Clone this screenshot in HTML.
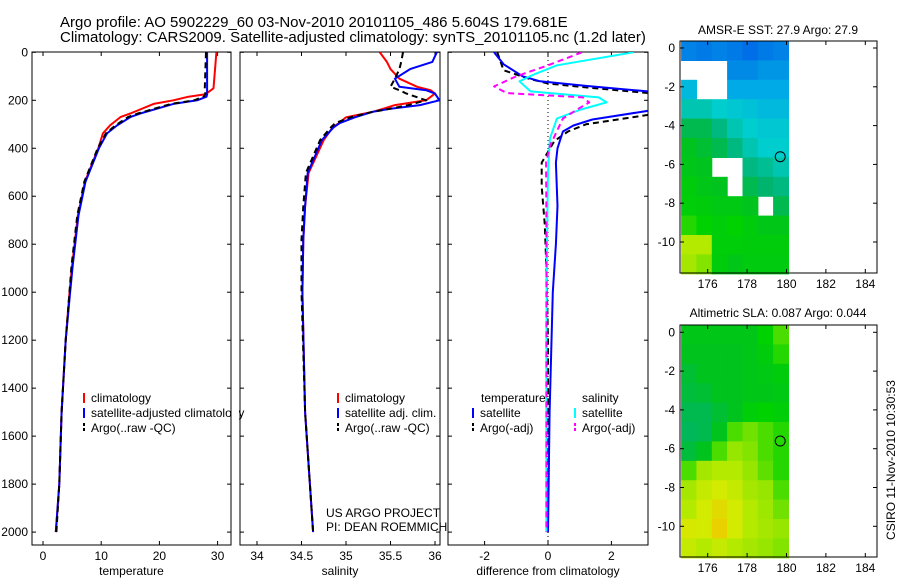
<!DOCTYPE html>
<html><head><meta charset="utf-8"><style>
body{margin:0;background:#fff}
svg{display:block;font-family:"Liberation Sans",sans-serif}
</style></head><body>
<svg id="c" width="900" height="580" viewBox="0 0 900 580">
<text x="60" y="27" font-size="15">Argo profile: AO 5902229_60 03-Nov-2010 20101105_486 5.604S 179.681E</text>
<text x="60" y="42" font-size="15">Climatology: CARS2009. Satellite-adjusted climatology: synTS_20101105.nc (1.2d later)</text>
<text x="778" y="34" font-size="12" text-anchor="middle">AMSR-E SST: 27.9 Argo: 27.9</text>
<text x="778" y="317" font-size="12" text-anchor="middle">Altimetric SLA: 0.087 Argo: 0.044</text>
<text transform="translate(895,460) rotate(-90)" font-size="12" text-anchor="middle">CSIRO 11-Nov-2010 10:30:53</text>
</svg>
<script>
// ---------- data ----------
const depthTicks=[0,200,400,600,800,1000,1200,1400,1600,1800,2000];
const tempTicks=[0,10,20,30];
const salTicks=[34,34.5,35,35.5,36];
const diffTicks=[-2,0,2];
const lonTicks=[176,178,180,182,184];
const latTicks=[0,-2,-4,-6,-8,-10];

const tDepth=[0,150,175,185,200,215,255,270,305,338,400,540,680,890,1015,1200,1500,1800,2000];
const tClim=[29.8,29.3,27.9,25,22.4,19,15,13.3,11.5,10.3,9.5,7.2,6.0,5.0,4.5,3.9,3.2,2.8,2.2];
const tSat=[28.2,28.2,28.2,28.1,26.5,22.4,16.7,15,12.7,11,9.6,7.3,6.1,5.1,4.6,3.9,3.2,2.8,2.2];
const tArgo=[28.0,27.8,27.9,27.6,26,22,16.3,14.6,12.4,10.8,9.4,7.1,5.9,4.9,4.5,3.9,3.2,2.8,2.3];

const sDepth=[0,40,70,110,144,158,172,200,220,235,248,271,295,313,365,503,642,781,1000,1500,2000];
const sClim=[35.38,35.46,35.5,35.6,35.8,35.95,36.0,35.9,35.55,35.42,35.3,35.0,34.92,34.85,34.75,34.58,34.54,34.52,34.51,34.54,34.63];
const sSat=[36.02,35.97,35.72,35.55,35.6,35.9,36.0,36.05,35.83,35.5,35.3,35.1,34.93,34.86,34.73,34.57,34.54,34.52,34.51,34.54,34.63];
const sArgo=[35.64,35.62,35.6,35.55,35.5,35.6,35.68,35.9,35.7,35.5,35.3,35.05,34.88,34.83,34.71,34.55,34.52,34.5,34.5,34.54,34.63];

const dTDepth=[0,50,100,121,140,163,200,243,280,305,330,400,460,640,800,1000,1500,2000];
const dTSat=[-1.7,-1.4,-0.8,-0.25,1.2,3.15,3.2,3.2,1.4,0.8,0.47,0.3,0.25,0.3,0.25,0.15,0.05,0.0];
const dTArgoDepth=[0,75,110,130,150,170,220,260,300,330,370,460,560,720,900,1200,2000];
const dTArgo=[-1.6,-1.4,-0.6,0.0,1.5,3.2,3.2,3.2,1.2,0.63,0.2,-0.2,-0.2,-0.1,-0.05,0,0];
const dSDepth=[0,54,90,121,145,163,188,209,240,276,360,500,800,1200,2000];
const dSSat=[2.7,0.28,-0.4,-0.9,-0.7,-0.55,1.6,1.85,1.0,0.28,0.06,0.0,-0.03,-0.05,-0.05];
const dSArgoDepth=[0,54,100,142,170,188,209,240,276,390,460,700,1200,2000];
const dSArgo=[1.07,0.0,-1.0,-1.7,-1.3,1.1,1.3,0.9,0.47,0.06,-0.06,-0.05,-0.05,-0.05];

const sstGrid=[
[0.2,0.18,0.2,0.18,0.15,0.18,0.2],
[null,null,null,0.22,0.22,0.25,0.25],
[0.35,null,null,0.3,0.3,0.3,0.3],
[0.45,0.45,0.42,0.4,0.38,0.35,0.35],
[0.55,0.55,0.5,0.45,0.42,0.4,0.4],
[0.6,0.58,0.55,0.5,0.45,0.42,0.42],
[0.62,0.6,null,null,0.5,0.48,0.45],
[0.65,0.62,0.6,null,0.55,0.52,0.5],
[0.66,0.65,0.63,0.63,0.6,null,0.55],
[0.7,0.68,0.66,0.68,0.65,0.62,0.62],
[0.8,0.8,0.66,0.66,0.65,0.65,0.65],
[0.78,0.75,0.65,0.62,0.64,0.64,0.64]];
const slaGrid=[
[0.62,0.62,0.62,0.62,0.62,0.68,0.72],
[0.6,0.6,0.6,0.6,0.62,0.65,0.7],
[0.58,0.6,0.6,0.6,0.62,0.63,0.65],
[0.57,0.58,0.6,0.6,0.62,0.62,0.63],
[0.55,0.55,0.58,0.6,0.66,0.68,0.66],
[0.54,0.55,0.6,0.72,0.74,0.72,0.7],
[0.57,0.6,0.72,0.76,0.75,0.72,0.7],
[0.72,0.78,0.8,0.8,0.76,0.73,0.7],
[0.78,0.82,0.84,0.82,0.78,0.76,0.72],
[0.8,0.84,0.88,0.84,0.8,0.77,0.74],
[0.85,0.84,0.9,0.84,0.8,0.78,0.76],
[0.82,0.8,0.82,0.8,0.78,0.76,0.75]];
const argoLon=179.681, argoLat=-5.604;

// ---------- drawing ----------
const svg=document.getElementById('c');
const NS='http://www.w3.org/2000/svg';
function mk(tag,attrs,parent){const e=document.createElementNS(NS,tag);for(const k in attrs)e.setAttribute(k,attrs[k]);(parent||svg).appendChild(e);return e;}
const TOP=52, BOT=545;
const yD=d=>52.3+d*0.2399;

function profilePanel(name,x0,x1,xs,ticks,label,fmt){
  const g=mk('g',{});
  
  
  const clip=mk('clipPath',{id:'clip-'+name},g);
  mk('rect',{x:x0,y:TOP,width:x1-x0,height:BOT-TOP},clip);
  const fr=mk('rect',{x:x0,y:TOP,width:x1-x0,height:BOT-TOP,fill:'none',stroke:'#000','stroke-width':1},g);
  
  
  depthTicks.forEach(d=>{
    const y=yD(d);
    mk('line',{x1:x0,x2:x0+4,y1:y,y2:y,stroke:'#000'},g);
    mk('line',{x1:x1-4,x2:x1,y1:y,y2:y,stroke:'#000'},g);
    if(x0<40){const t=mk('text',{x:x0-4,y:y+4,'font-size':12,'text-anchor':'end'},g);t.textContent=d;
      }
  });
  ticks.forEach(v=>{
    const x=xs(v);
    mk('line',{x1:x,x2:x,y1:BOT,y2:BOT-4,stroke:'#000'},g);
    mk('line',{x1:x,x2:x,y1:TOP,y2:TOP+4,stroke:'#000'},g);
    const t=mk('text',{x:x,y:560,'font-size':12,'text-anchor':'middle'},g);t.textContent=fmt(v);
    
  });
  const l=mk('text',{x:(x0+x1)/2,y:575,'font-size':12,'text-anchor':'middle'},g);l.textContent=label;
  
  const pg=mk('g',{'clip-path':'url(#clip-'+name+')'},g);
  return pg;
}
function line(g,name,depths,vals,xs,color,dash,w){
  const pts=depths.map((d,i)=>xs(vals[i]).toFixed(1)+','+yD(d).toFixed(1)).join(' ');
  const p=mk('polyline',{points:pts,fill:'none',stroke:color,'stroke-width':w||2,'stroke-dasharray':dash||'none','stroke-linejoin':'round'},g);
  
  
}
const xT=v=>43+v*5.82;
const xS=v=>257+(v-34)*89;
const xDf=v=>548+v*31.7;

let g1=profilePanel('temperature-panel',32,231,xT,tempTicks,'temperature',v=>v);
line(g1,'temp-climatology-line',tDepth,tClim,xT,'#f00');
line(g1,'temp-satellite-line',tDepth,tSat,xT,'#00f');
line(g1,'temp-argo-line',tDepth,tArgo,xT,'#000','6,4');
let g2=profilePanel('salinity-panel',240,440,xS,salTicks,'salinity',v=>v);
line(g2,'sal-climatology-line',sDepth,sClim,xS,'#f00');
line(g2,'sal-satellite-line',sDepth,sSat,xS,'#00f');
line(g2,'sal-argo-line',sDepth,sArgo,xS,'#000','6,4');
let g3=profilePanel('difference-panel',448,648,xDf,diffTicks,'difference from climatology',v=>v);
const zl=mk('line',{x1:xDf(0),x2:xDf(0),y1:TOP,y2:BOT,stroke:'#000','stroke-dasharray':'1,3'},g3);

line(g3,'diff-temp-argo-line',dTArgoDepth,dTArgo,xDf,'#000','6,4');
line(g3,'diff-temp-satellite-line',dTDepth,dTSat,xDf,'#00f');
line(g3,'diff-sal-satellite-line',dSDepth,dSSat,xDf,'#0ff');
line(g3,'diff-sal-argo-line',dSArgoDepth,dSArgo,xDf,'#f0f','6,4');

function legend(x,y,items){
  const g=mk('g',{});
  
  
  items.forEach((it,i)=>{
    const yy=y+i*15;
    mk('line',{x1:x,x2:x,y1:yy-5,y2:yy+5,stroke:it[1],'stroke-width':2,'stroke-dasharray':it[2]||'none'},g);
    const t=mk('text',{x:x+7,y:yy+4,'font-size':12},g);t.textContent=it[0];
    
  });
}
legend(84,398,[['climatology','#f00'],['satellite-adjusted climatology','#00f'],['Argo(..raw -QC)','#000','3,2']]);
mk('rect',{x:232,y:380,width:7,height:60,fill:'#fff'});
legend(338,398,[['climatology','#f00'],['satellite adj. clim.','#00f'],['Argo(..raw -QC)','#000','3,2']]);
const h1=mk('text',{x:481,y:402,'font-size':12});h1.textContent='temperature';

const h2=mk('text',{x:582,y:402,'font-size':12});h2.textContent='salinity';

legend(473,413,[['satellite','#00f'],['Argo(-adj)','#000','3,2']]);
legend(575,413,[['satellite','#0ff'],['Argo(-adj)','#f0f','3,2']]);
const c1=mk('text',{x:326,y:517,'font-size':12});c1.textContent='US ARGO PROJECT';

const c2=mk('text',{x:326,y:531,'font-size':12});c2.textContent='PI: DEAN ROEMMICH';


// colormap
const stops=[[0.15,[0,110,230]],[0.3,[0,170,230]],[0.42,[0,205,205]],[0.52,[0,180,110]],[0.6,[0,195,30]],[0.68,[0,210,0]],[0.76,[150,230,0]],[0.84,[210,235,0]],[0.92,[240,200,0]]];
function cmap(v){
  if(v<=stops[0][0])return 'rgb('+stops[0][1]+')';
  for(let i=1;i<stops.length;i++){if(v<=stops[i][0]){const a=stops[i-1],b=stops[i],t=(v-a[0])/(b[0]-a[0]);
    return 'rgb('+a[1].map((c,k)=>Math.round(c+(b[1][k]-c)*t)).join(',')+')';}}
  return 'rgb('+stops[stops.length-1][1]+')';
}
function mapPanel(name,top,bottom,lat0y,grid){
  const g=mk('g',{});
  
  
  const xL=v=>707.7+(v-176)*19.7;
  const yL=v=>lat0y-v*19.4;
  const left=680,right=877;
  const lon0=174.65,dLon=(180.1-174.65)/7;
  const lat0=(lat0y-top)/19.4;
  grid.forEach((row,r)=>row.forEach((v,c)=>{
    if(v===null)return;
    const x=xL(lon0+c*dLon),y=yL(lat0-r);
    const cell=mk('rect',{x:x.toFixed(1),y:y.toFixed(1),width:(dLon*19.7+0.6).toFixed(1),height:(19.4+0.6).toFixed(1),fill:cmap(v)},g);
    
    
  }));
  mk('rect',{x:left,y:top,width:right-left,height:bottom-top,fill:'none',stroke:'#000'},g);
  lonTicks.forEach(v=>{const x=xL(v);
    mk('line',{x1:x,x2:x,y1:bottom,y2:bottom-4,stroke:'#000'},g);
    mk('line',{x1:x,x2:x,y1:top,y2:top+4,stroke:'#000'},g);
    const t=mk('text',{x:x,y:bottom+15,'font-size':12,'text-anchor':'middle'},g);t.textContent=v;
    });
  latTicks.forEach(v=>{const y=yL(v);
    mk('line',{x1:left,x2:left+4,y1:y,y2:y,stroke:'#000'},g);
    mk('line',{x1:right-4,x2:right,y1:y,y2:y,stroke:'#000'},g);
    const t=mk('text',{x:left-5,y:y+4,'font-size':12,'text-anchor':'end'},g);t.textContent=v;
    });
  const m=mk('circle',{cx:xL(argoLon),cy:yL(argoLat),r:5,fill:'none',stroke:'#000'},g);
  
  
}
mapPanel('sst-map',41,273,48,sstGrid);
mapPanel('sla-map',325,557,332.3,slaGrid);
</script>
</body></html>
